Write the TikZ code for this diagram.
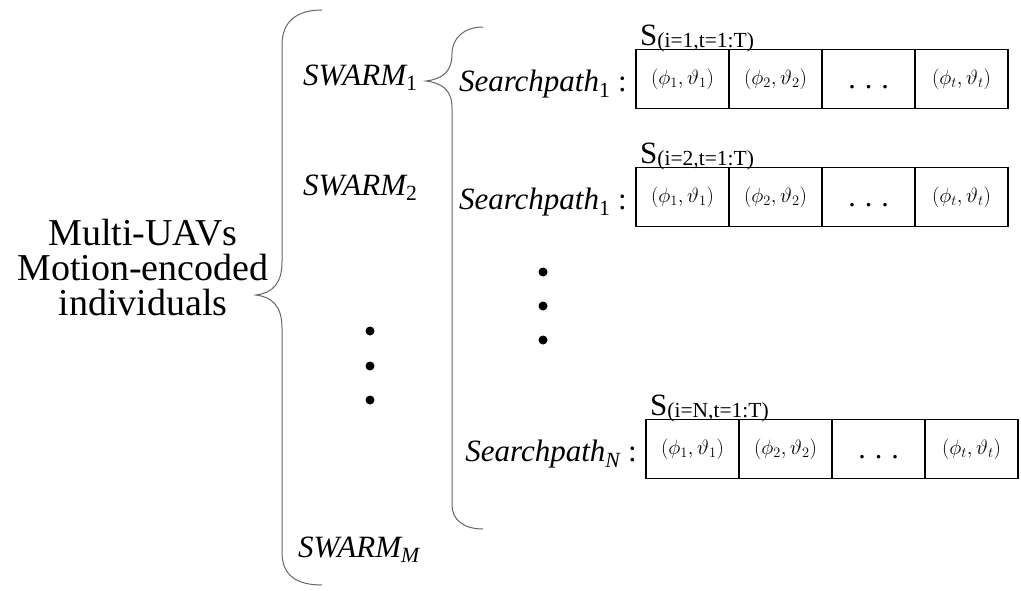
\documentclass[tikz,border=0pt]{standalone}
\usepackage{fontspec}
\setmainfont{Liberation Serif}
\usetikzlibrary{positioning}

\newcommand\seqname[1]{{\fontsize{31}{31}\selectfont S}{\fontsize{21.5}{22}\selectfont\raisebox{-2pt}{(i=#1,t=1:T)}}}

\begin{document}
\begin{tikzpicture}[
    x=1pt, y=-1pt,
    node distance=0pt,
    cell/.style={draw, line width=1.8pt, outer sep=0pt, inner sep=0pt, minimum width=93pt, minimum height=59pt, font=\fontsize{21}{21}\selectfont, text height=16pt, text depth=5pt},
    dotcell/.style={cell, font=\fontsize{30}{30}\selectfont, text height=21pt, text depth=3pt},
    pathlabel/.style={font=\fontsize{31}{31}\selectfont\itshape, inner sep=0pt, yshift=-5pt},
    swarm/.style={font=\fontsize{31}{31}\selectfont\itshape, inner sep=0pt, anchor=base west},
    seqlabel/.style={inner sep=0pt, anchor=base west, xshift=4pt, yshift=4pt},
    brace/.style={draw=black!60, line width=1pt},
    bigdot/.style={circle, fill, inner sep=0pt, minimum size=9pt}
]
    \useasboundingbox (0,0) rectangle (1021,590);

    \node[font=\fontsize{38}{35}\selectfont, align=center] (multi) at (143,267) {Multi-UAVs\\Motion-encoded\\individuals};

    % outer brace
    \draw[brace] (322,10) .. controls (296,10) and (282,22) .. (282,45) -- (282,262)
        .. controls (282,284) and (272,293) .. (256,295)
        .. controls (272,297) and (282,306) .. (282,328) -- (282,552)
        .. controls (282,575) and (296,585) .. (322,585);

    \node[swarm] (sw1) at (303,85) {SWARM\textsubscript{\upshape 1}};
    \node[swarm] (sw2) at (303,195) {SWARM\textsubscript{\upshape 2}};
    \node[swarm] (swm) at (298,557) {SWARM\textsubscript{M}};
    \node[bigdot] (v1) at (370,331) {};
    \node[bigdot] (v2) at (370,366) {};
    \node[bigdot] (v3) at (370,400) {};

    % inner brace
    \draw[brace] (483,27) .. controls (464,27) and (452,38) .. (452,54)
        .. controls (452,72) and (442,79) .. (426,81)
        .. controls (442,83) and (452,90) .. (452,108) -- (452,505)
        .. controls (452,520) and (464,529) .. (483,529);

    % first search path
    \node[cell] (c11) at (682.5,79) {$(\phi_1,\vartheta_1)$};
    \node[cell, right=of c11] (c12) {$(\phi_2,\vartheta_2)$};
    \node[dotcell, right=of c12] (c13) {.\hspace{9pt}.\hspace{9pt}.};
    \node[cell, right=of c13] (c14) {$(\phi_t,\vartheta_t)$};
    \node[pathlabel, left=9pt of c11] (p1) {Searchpath\textsubscript{\upshape 1} {\upshape :}};
    \node[seqlabel] (s1) at (c11.north west) {\seqname{1}};

    % second search path
    \node[cell] (c21) at (682.5,197) {$(\phi_1,\vartheta_1)$};
    \node[cell, right=of c21] (c22) {$(\phi_2,\vartheta_2)$};
    \node[dotcell, right=of c22] (c23) {.\hspace{9pt}.\hspace{9pt}.};
    \node[cell, right=of c23] (c24) {$(\phi_t,\vartheta_t)$};
    \node[pathlabel, left=9pt of c21] (p2) {Searchpath\textsubscript{\upshape 1} {\upshape :}};
    \node[seqlabel] (s2) at (c21.north west) {\seqname{2}};

    \node[bigdot] (v4) at (543,272) {};
    \node[bigdot] (v5) at (543,306) {};
    \node[bigdot] (v6) at (543,340) {};

    % last search path
    \node[cell] (c31) at (692.5,449) {$(\phi_1,\vartheta_1)$};
    \node[cell, right=of c31] (c32) {$(\phi_2,\vartheta_2)$};
    \node[dotcell, right=of c32] (c33) {.\hspace{9pt}.\hspace{9pt}.};
    \node[cell, right=of c33] (c34) {$(\phi_t,\vartheta_t)$};
    \node[pathlabel, left=9pt of c31] (p3) {Searchpath\textsubscript{N} {\upshape :}};
    \node[seqlabel] (s3) at (c31.north west) {\seqname{N}};
\end{tikzpicture}
\end{document}
